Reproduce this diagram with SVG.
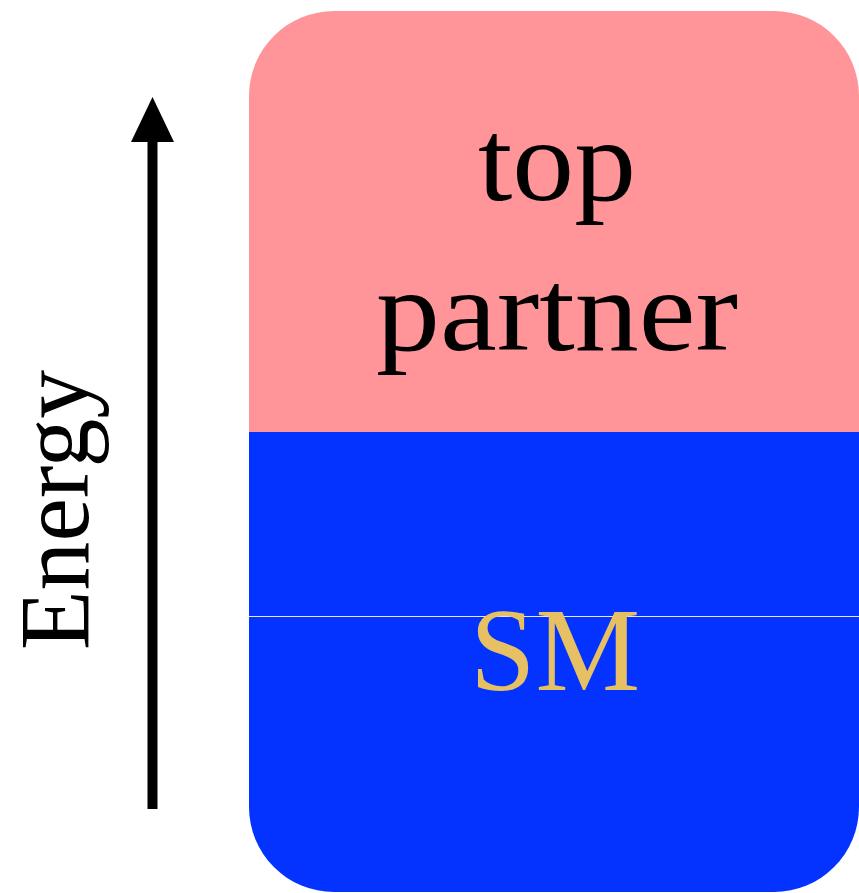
<svg xmlns="http://www.w3.org/2000/svg" width="859" height="893" viewBox="0 0 859 893">
<defs>
<style>
.lbl{font-family:"Liberation Serif","Times New Roman",serif;text-anchor:middle}
</style>
<clipPath id="box"><rect x="249" y="11" width="610" height="881" rx="85" ry="85"/></clipPath>
</defs>
<rect width="859" height="893" fill="#ffffff"/>
<g id="box-node" clip-path="url(#box)">
<rect x="249" y="11" width="610" height="421" fill="#FF9499"/>
<rect x="249" y="432" width="610" height="461" fill="#0433FF"/>
<line x1="249" y1="616.5" x2="859" y2="616.5" stroke="#e8e8f0" stroke-width="1.2"/>
</g>
<g id="top-partner">
<text class="lbl" x="557" y="200" font-size="116" textLength="158" lengthAdjust="spacingAndGlyphs">top</text>
<text class="lbl" x="557" y="350" font-size="116" textLength="362" lengthAdjust="spacingAndGlyphs">partner</text>
</g>
<g id="sm">
<text class="lbl" x="555" y="690" font-size="118" fill="#E6C062" textLength="170" lengthAdjust="spacingAndGlyphs">SM</text>
</g>
<g id="connectors">
<line x1="152.5" y1="809" x2="152.5" y2="140" stroke="#000" stroke-width="10"/>
<polygon points="152.5,97 131,142 174,142" fill="#000"/>
</g>
<g id="energy-label">
<text class="lbl" transform="translate(88,510) rotate(-90)" font-size="100" textLength="280" lengthAdjust="spacingAndGlyphs">Energy</text>
</g>
</svg>
